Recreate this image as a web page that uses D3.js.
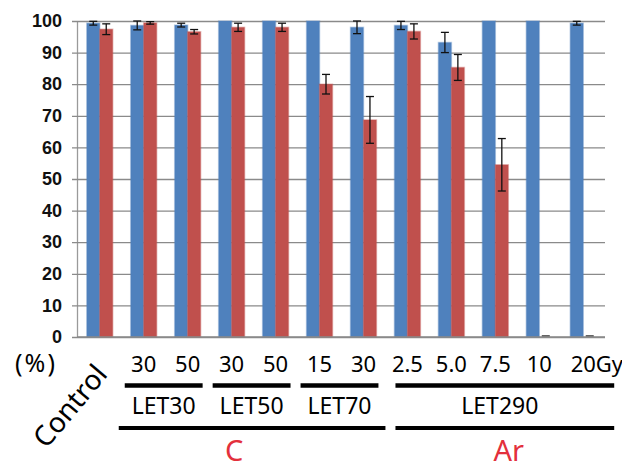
<!DOCTYPE html>
<html>
<head>
<meta charset="utf-8">
<script src="https://cdn.jsdelivr.net/npm/d3@7"></script>
<style>
  body { margin: 0; background: #fff; }
  svg { display: block; font-family: "Noto Sans", sans-serif; }
</style>
</head>
<body>
<svg width="622" height="471"></svg>
<script>
// groups along the x axis
const categories = ["Control", "30a", "50a", "30b", "50b", "15", "30c", "2.5", "5.0", "7.5", "10", "20"];
const doseLabels = ["", "30", "50", "30", "50", "15", "30", "2.5", "5.0", "7.5", "10", "20"];

// blue series and its error
const blueValues = [99.3, 98.6, 98.7, 100, 100, 100, 98.0, 98.6, 93.2, 100, 100, 99.3];
const blueErr    = [0.6, 1.4, 0.6, 0, 0, 0, 2.0, 1.3, 3.2, 0, 0, 0.6];
// red series and its error
const redValues  = [97.4, 99.4, 96.6, 98.0, 98.0, 80.0, 68.7, 96.7, 85.3, 54.5, 0, 0];
const redErr     = [1.7, 0.4, 0.7, 1.3, 1.3, 3.1, 7.4, 2.4, 4.1, 8.3, 0, 0];

const yTicks = [0, 10, 20, 30, 40, 50, 60, 70, 80, 90, 100];

// bracket groups under the axis
const letGroups = [
  {label: "LET30", from: "30a", to: "50a"},
  {label: "LET50", from: "30b", to: "50b"},
  {label: "LET70", from: "15", to: "30c"},
  {label: "LET290", from: "2.5", to: "20"}
];
const ionGroups = [
  {label: "C", from: "30a", to: "30c"},
  {label: "Ar", from: "2.5", to: "20"}
];

const svg = d3.select("svg");
const plot = {left: 77, right: 605, top: 21, bottom: 337};

const x = d3.scaleBand().domain(categories).range([78, plot.right])
            .paddingInner(0.41).paddingOuter(0.2);
const xs = d3.scaleBand().domain(["blue", "red"]).range([0, x.bandwidth()]);
const y = d3.scaleLinear().domain([0, 100]).range([plot.bottom, plot.top]);

// grid + y axis
const gy = svg.append("g")
    .attr("transform", `translate(${plot.left},0)`)
    .call(d3.axisLeft(y).tickValues(yTicks).tickSize(-(plot.right - plot.left)).tickSizeOuter(0).tickPadding(15));
gy.select(".domain").attr("stroke", "#9a9a9a").attr("stroke-width", 1.3);
gy.selectAll(".tick line").attr("stroke", "#8a8a8a").attr("stroke-width", 1.3).attr("x1", -5);
gy.selectAll(".tick text")
    .attr("fill", "#111")
    .style("font-family", "'Liberation Sans', sans-serif")
    .style("font-weight", "bold")
    .style("font-size", "18px");

const series = [
  {key: "blue", color: "#4f81bd", values: blueValues, err: blueErr},
  {key: "red", color: "#c0504d", values: redValues, err: redErr}
];

series.forEach(s => {
  const g = svg.append("g");
  g.selectAll("rect")
    .data(categories)
    .enter().append("rect")
      .attr("x", (d, i) => x(d) + xs(s.key))
      .attr("y", (d, i) => y(s.values[i]))
      .attr("width", xs.bandwidth())
      .attr("height", (d, i) => y(0) - y(s.values[i]))
      .attr("fill", s.color)
      .attr("stroke", s.color)
      .attr("stroke-opacity", 0.35)
      .attr("stroke-width", 1.5);
});

// error bars
series.forEach(s => {
  const g = svg.append("g").attr("stroke", "#111").attr("stroke-width", 1.3);
  categories.forEach((c, i) => {
    const cx = x(c) + xs(s.key) + xs.bandwidth() / 2;
    const hi = Math.min(100, s.values[i] + s.err[i]);
    const lo = s.values[i] - s.err[i];
    if (s.values[i] === 0 && s.err[i] === 0) {
      g.append("line").attr("x1", cx - 4).attr("x2", cx + 4)
        .attr("y1", y(0) - 1).attr("y2", y(0) - 1);
      return;
    }
    if (s.err[i] === 0) return;
    g.append("line").attr("x1", cx).attr("x2", cx).attr("y1", y(hi)).attr("y2", y(lo));
    g.append("line").attr("x1", cx - 4).attr("x2", cx + 4).attr("y1", y(hi)).attr("y2", y(hi));
    g.append("line").attr("x1", cx - 4).attr("x2", cx + 4).attr("y1", y(lo)).attr("y2", y(lo));
  });
});

// x baseline
svg.append("line")
    .attr("x1", plot.left).attr("x2", plot.right)
    .attr("y1", y(0)).attr("y2", y(0))
    .attr("stroke", "#8a8a8a").attr("stroke-width", 1.3);

// (%) label
svg.append("text")
    .attr("x", 36).attr("y", 372)
    .attr("text-anchor", "middle")
    .style("font-size", "25px")
    .style("letter-spacing", "2px")
    .text("(%)");

// Control label, rotated
const center = c => x(c) + x.bandwidth() / 2;
svg.append("text")
    .attr("transform", `translate(${center("Control") + 9},${375}) rotate(-50)`)
    .attr("text-anchor", "end")
    .style("font-size", "28px")
    .text("Control");

// dose labels
categories.forEach((c, i) => {
  if (!doseLabels[i]) return;
  const t = svg.append("text")
      .attr("x", center(c)).attr("y", 372)
      .attr("text-anchor", "middle")
      .style("font-size", "22px")
      .text(doseLabels[i]);
  if (i === categories.length - 1) {
    const w = t.node().getComputedTextLength();
    svg.append("text")
        .attr("x", center(c) + w / 2).attr("y", 372)
        .style("font-size", "22px")
        .text("Gy");
  }
});

// LET brackets
letGroups.forEach((g, i) => {
  const last = i === letGroups.length - 1;
  const x1 = x(g.from) + (last ? 1 : -6);
  const x2 = x(g.to) + x.bandwidth() + (last ? 18 : 2);
  svg.append("line")
      .attr("x1", x1).attr("x2", x2)
      .attr("y1", 385.5).attr("y2", 385.5)
      .attr("stroke", "#000").attr("stroke-width", 4.5);
  svg.append("text")
      .attr("x", (x1 + x2) / 2 + (last ? -5 : 0)).attr("y", 414)
      .attr("text-anchor", "middle")
      .style("font-size", "23px")
      .text(g.label);
});

// ion brackets
ionGroups.forEach((g, i) => {
  const last = i === ionGroups.length - 1;
  const x1 = x(g.from) + (last ? 1 : -12);
  const x2 = x(g.to) + x.bandwidth() + (last ? 18 : 9);
  svg.append("line")
      .attr("x1", x1).attr("x2", x2)
      .attr("y1", 428).attr("y2", 428)
      .attr("stroke", "#000").attr("stroke-width", 4);
  svg.append("text")
      .attr("x", (x1 + x2) / 2 + (last ? 4 : -18)).attr("y", 461)
      .attr("text-anchor", "middle")
      .attr("fill", "#e3303c")
      .style("font-size", "29px")
      .text(g.label);
});
</script>
</body>
</html>
